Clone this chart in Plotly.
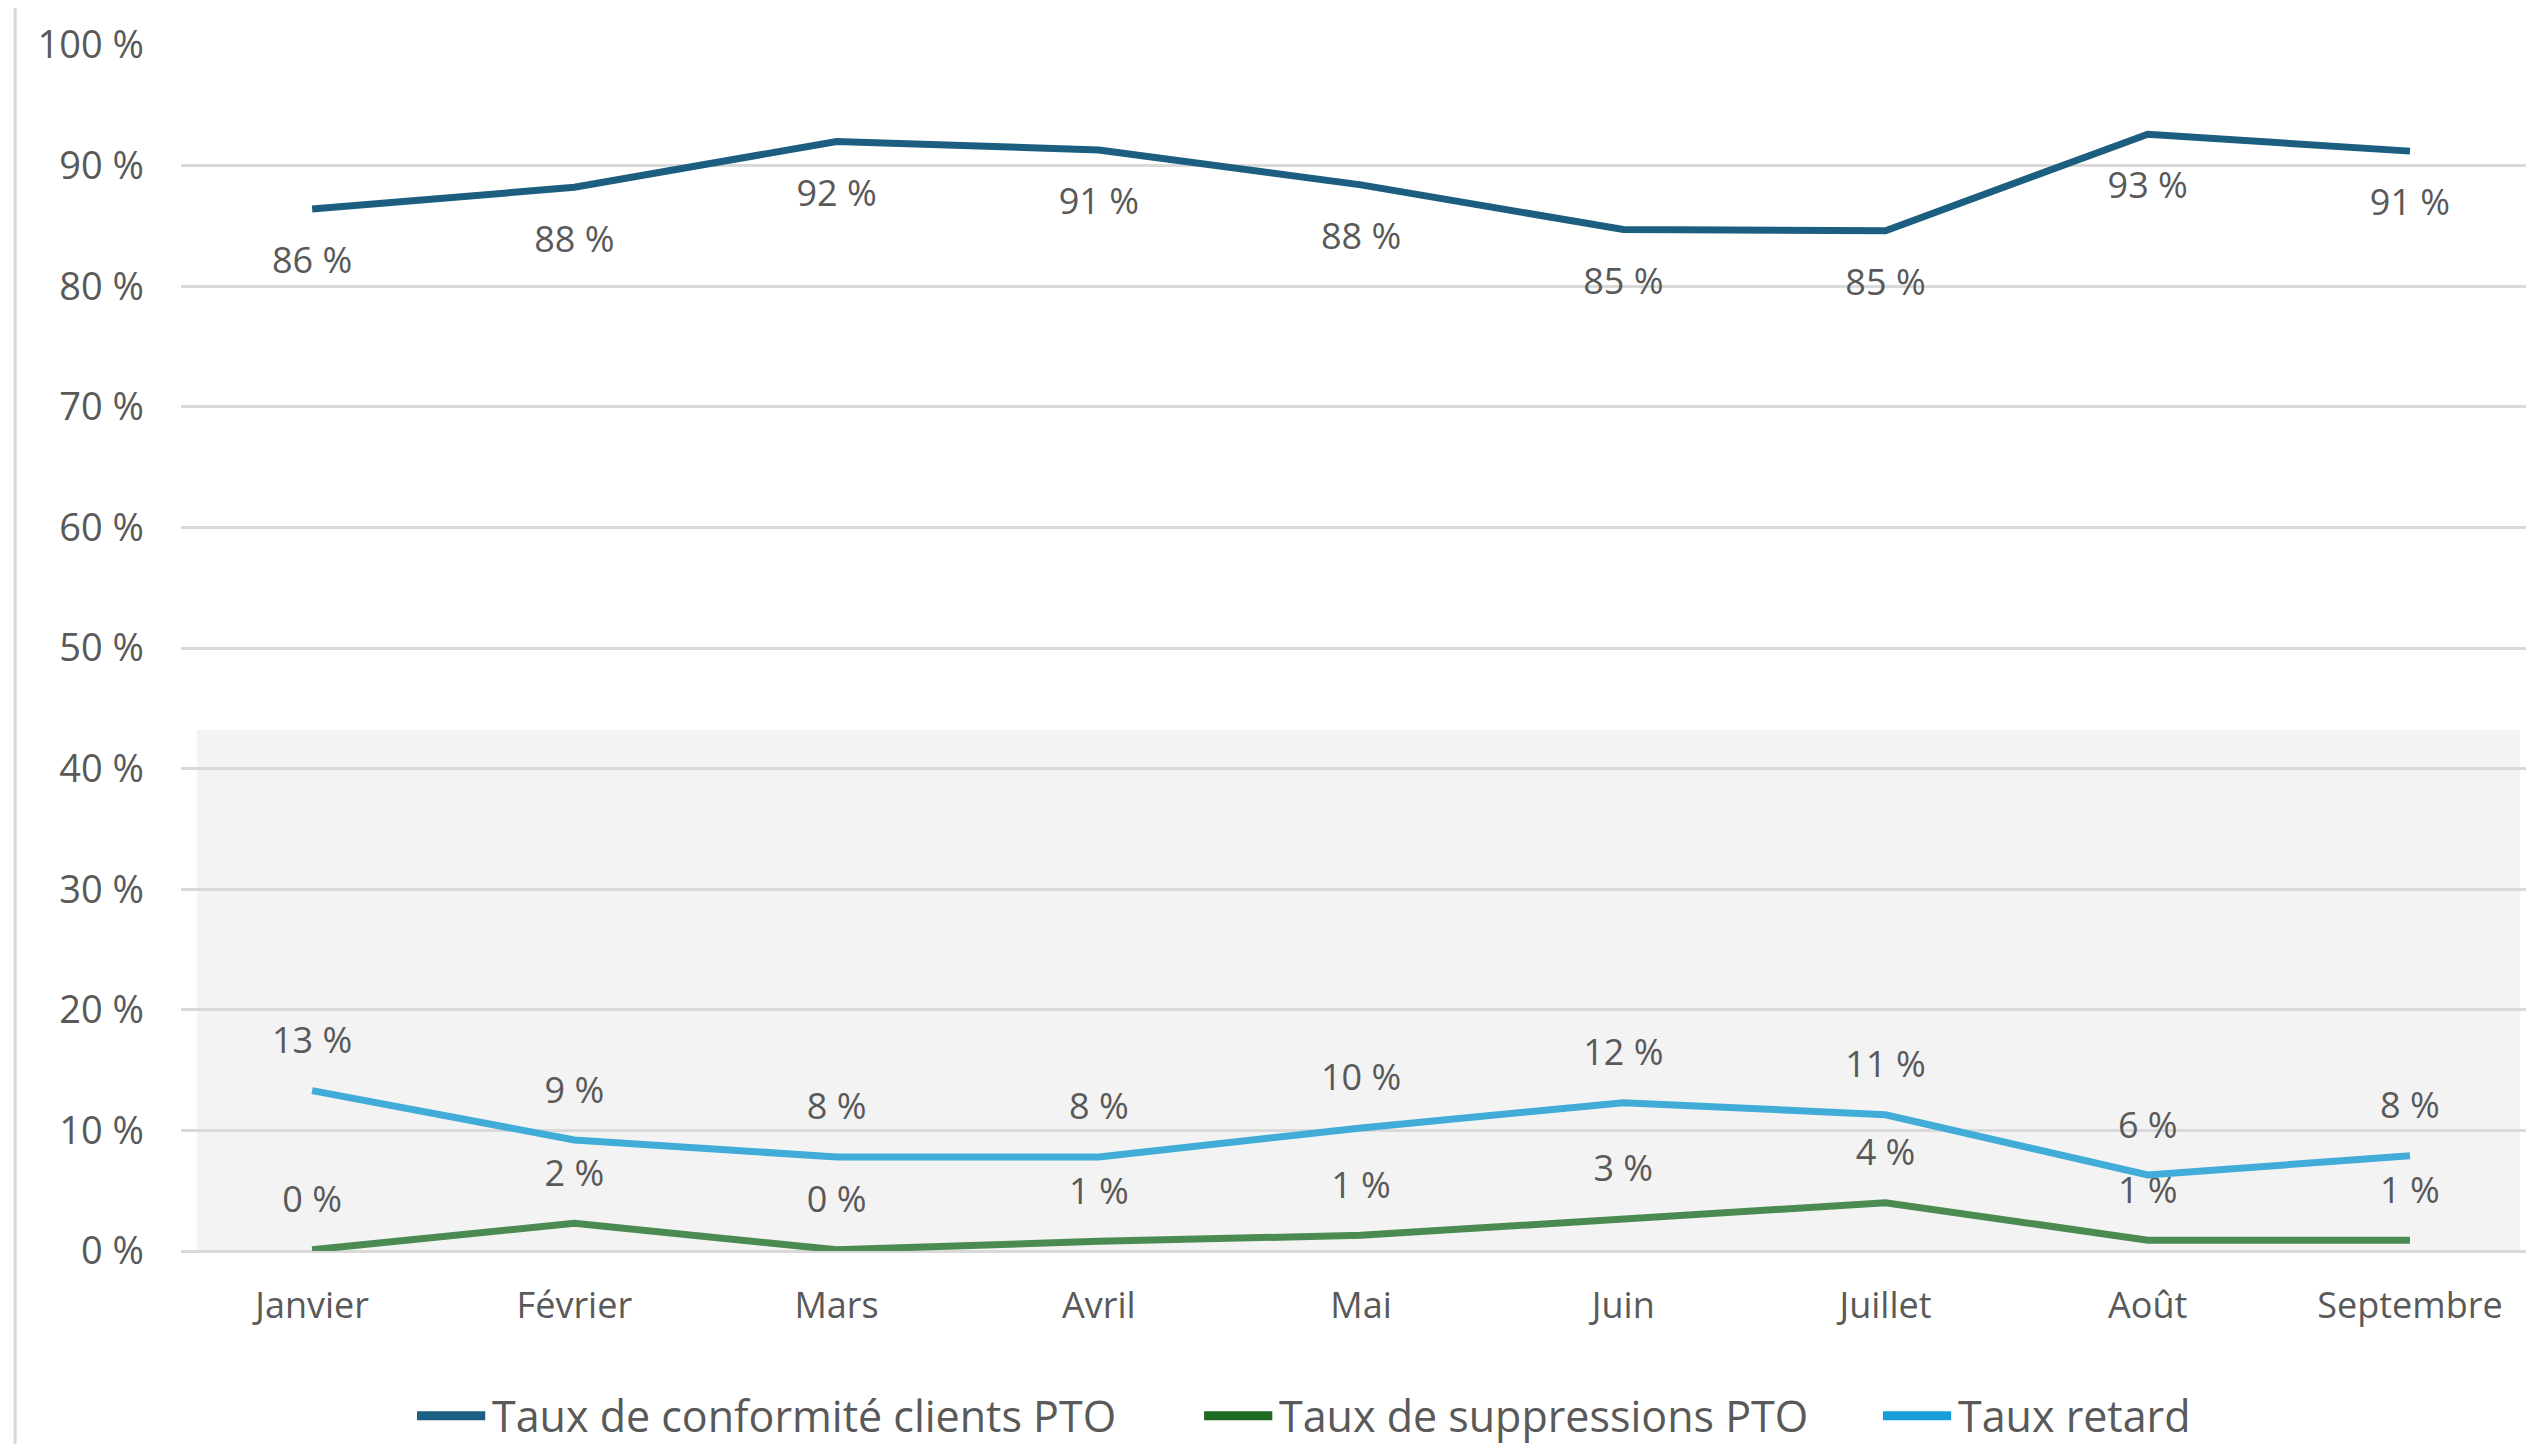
import plotly.graph_objects as go

mois = ["Janvier", "Février", "Mars", "Avril", "Mai", "Juin", "Juillet", "Août", "Septembre"]
conformite = [86.4, 88.2, 92.0, 91.3, 88.4, 84.7, 84.6, 92.6, 91.2]
suppressions = [0.1, 2.3, 0.1, 0.8, 1.3, 2.7, 4.0, 0.9, 0.9]
retard = [13.3, 9.2, 7.8, 7.8, 10.2, 12.3, 11.3, 6.3, 7.9]
y_ticks = [0, 10, 20, 30, 40, 50, 60, 70, 80, 90, 100]
y_ticktext = [f"{v} %" for v in y_ticks]

FONT = "Open Sans"
TXT = "#595959"

# name, values, line colour, legend colour, label position, marker size (label offset), legend x (paper)
series = [
    ("Taux de conformité clients PTO", conformite, "#1b5e80", "#1b5f82", "bottom center", 58, 0.1003),
    ("Taux de suppressions PTO", suppressions, "#4b8b52", "#1e6b24", "top center", 44, 0.4348),
    ("Taux retard", retard, "#41acd8", "#1a9ed9", "top center", 44, 0.7233),
]
LEG_Y = -0.1367
SYM_W = 0.029

fig = go.Figure()
for name, vals, col, lcol, pos, msize, lx in series:
    fig.add_trace(go.Scatter(
        x=mois, y=vals, name=name, mode="lines", showlegend=False,
        line=dict(color=col, width=7), hoverinfo="skip",
    ))
    fig.add_trace(go.Scatter(
        x=mois, y=vals, mode="markers+text", showlegend=False,
        marker=dict(size=msize, opacity=0, color=col),
        texttemplate="%{y:.0f} %", textposition=pos,
        textfont=dict(family=FONT, size=36, color=TXT),
        cliponaxis=False, hoverinfo="skip",
    ))
    # legend entry drawn as symbol + label
    fig.add_shape(type="line", xref="paper", yref="paper", x0=lx, x1=lx + SYM_W,
                  y0=LEG_Y, y1=LEG_Y, line=dict(color=lcol, width=9))
    fig.add_annotation(xref="paper", yref="paper", x=lx + SYM_W + 0.002, y=LEG_Y,
                       text=name, showarrow=False, xanchor="left", yanchor="middle",
                       font=dict(family=FONT, size=43, color=TXT))

# shaded band behind the lower series
fig.add_shape(type="rect", xref="x", yref="y", x0=-0.44, x1=8.42, y0=-0.6, y1=43.2,
              fillcolor="#f3f3f3", line=dict(width=0), layer="below")
# chart border on the left
fig.add_shape(type="line", xref="paper", yref="paper", x0=-0.0705, x1=-0.0705, y0=-0.2, y1=1.05,
              line=dict(color="#d9d9d9", width=3), layer="below")

fig.update_layout(
    width=2526, height=1436,
    margin=dict(l=173, r=0, t=37, b=193),
    paper_bgcolor="white", plot_bgcolor="white",
    font=dict(family=FONT, size=36, color=TXT),
    showlegend=False,
    xaxis=dict(range=[-0.5, 8.473], showgrid=False, showline=False, zeroline=False,
               ticks="", tickfont=dict(family=FONT, size=36, color=TXT),
               ticklabelstandoff=30, fixedrange=True),
    yaxis=dict(range=[0, 100], tickmode="array", tickvals=y_ticks, ticktext=y_ticktext,
               showgrid=True, gridcolor="#d9d9d9", gridwidth=3,
               zeroline=True, zerolinecolor="#d9d9d9", zerolinewidth=3,
               showline=False, ticks="", tickfont=dict(family=FONT, size=38, color=TXT),
               ticklabelstandoff=36, fixedrange=True),
)

fig.write_html("out.html")
